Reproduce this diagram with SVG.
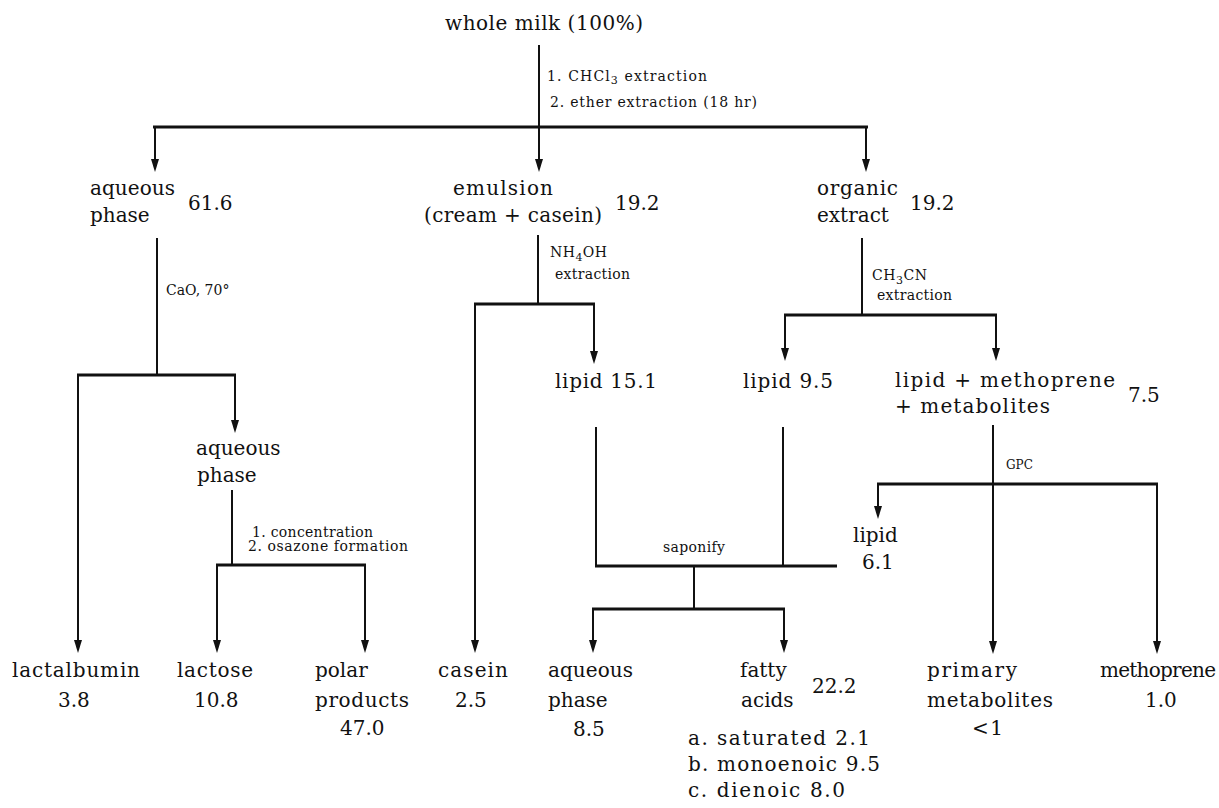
<svg xmlns="http://www.w3.org/2000/svg" width="1219" height="808" viewBox="0 0 1219 808">
<style>
text{font-family:"DejaVu Serif","Liberation Serif",serif;fill:#111}
.n{font-size:20px}
.s{font-size:14px}
.sub{font-size:11px}
.v{stroke:#111;stroke-width:2;fill:none}
.h{stroke:#111;stroke-width:3;fill:none}
.a{stroke:#111;stroke-width:2;fill:none;marker-end:url(#ah)}
</style>
<defs>
<marker id="ah" markerUnits="userSpaceOnUse" viewBox="0 0 13 8" refX="6" refY="4" markerWidth="13" markerHeight="8" orient="auto">
<path d="M0,0 L13,4 L0,8 z" fill="#111"/>
</marker>
</defs>
<rect width="1219" height="808" fill="#fff"/>
<g id="connectors">
<path class="v" d="M539,45 V127"/>
<path class="h" d="M153,127 H868"/>
<path class="a" d="M155,127 V165"/>
<path class="a" d="M539,127 V165"/>
<path class="a" d="M866,127 V165"/>
<path class="v" d="M157,238 V375"/>
<path class="h" d="M77,375 H236"/>
<path class="a" d="M78,375 V646"/>
<path class="a" d="M235,375 V426"/>
<path class="v" d="M232,490 V565"/>
<path class="h" d="M216,565 H366"/>
<path class="a" d="M217,565 V646"/>
<path class="a" d="M365,565 V646"/>
<path class="v" d="M538,235 V304"/>
<path class="h" d="M474,304 H595"/>
<path class="a" d="M475,304 V646"/>
<path class="a" d="M594,304 V357"/>
<path class="v" d="M862,238 V315"/>
<path class="h" d="M784,315 H997"/>
<path class="a" d="M785,315 V354"/>
<path class="a" d="M996,315 V354"/>
<path class="v" d="M596,427 V566"/>
<path class="v" d="M783,427 V566"/>
<path class="h" d="M595,566 H837"/>
<path class="v" d="M694,566 V609"/>
<path class="h" d="M592,609 H785"/>
<path class="a" d="M593,609 V646"/>
<path class="a" d="M784,609 V646"/>
<path class="a" d="M993,425 V647"/>
<path class="h" d="M877,484 H1158"/>
<path class="a" d="M878,484 V512"/>
<path class="a" d="M1157,484 V647"/>
</g>
<g id="labels">
<text class="s" x="547" y="81" textLength="160">1.  CHCl<tspan class="sub" dy="3">3</tspan><tspan dy="-3"> extraction</tspan></text>
<text class="s" x="550" y="107" textLength="207">2.  ether extraction (18 hr)</text>
<text class="s" x="166" y="295">CaO, 70°</text>
<text class="s" x="550" y="257" textLength="57">NH<tspan class="sub" dy="4">4</tspan><tspan dy="-4">OH</tspan></text>
<text class="s" x="555" y="279" textLength="75">extraction</text>
<text class="s" x="872" y="280" textLength="55">CH<tspan class="sub" dy="4">3</tspan><tspan dy="-4">CN</tspan></text>
<text class="s" x="877" y="300" textLength="75">extraction</text>
<text class="s" x="252" y="537" textLength="121">1.  concentration</text>
<text class="s" x="248" y="551" textLength="160">2.  osazone formation</text>
<text class="s" x="663" y="552" textLength="62">saponify</text>
<text class="s" x="1006" y="469" style="font-size:12px">GPC</text>
</g>
<g id="whole-milk"><text class="n" x="445" y="30" textLength="198">whole milk (100%)</text></g>
<g id="aqueous-phase-1"><text class="n" x="90" y="195" textLength="85">aqueous</text><text class="n" x="90" y="222">phase</text><text class="n" x="188" y="210">61.6</text></g>
<g id="emulsion"><text class="n" x="453" y="195" textLength="100">emulsion</text><text class="n" x="424" y="222" textLength="178">(cream + casein)</text><text class="n" x="615" y="210">19.2</text></g>
<g id="organic-extract"><text class="n" x="817" y="195" textLength="81">organic</text><text class="n" x="817" y="222">extract</text><text class="n" x="910" y="210">19.2</text></g>
<g id="lipid-15"><text class="n" x="555" y="388" textLength="102">lipid 15.1</text></g>
<g id="lipid-9"><text class="n" x="743" y="388" textLength="90">lipid 9.5</text></g>
<g id="lipid-methoprene"><text class="n" x="895" y="387" textLength="220">lipid + methoprene</text><text class="n" x="895" y="413" textLength="155">+ metabolites</text><text class="n" x="1128" y="402">7.5</text></g>
<g id="aqueous-phase-2"><text class="n" x="196" y="455">aqueous</text><text class="n" x="197" y="482">phase</text></g>
<g id="lipid-6"><text class="n" x="853" y="542">lipid</text><text class="n" x="862" y="569">6.1</text></g>
<g id="lactalbumin"><text class="n" x="12" y="677" textLength="128">lactalbumin</text><text class="n" x="58" y="707">3.8</text></g>
<g id="lactose"><text class="n" x="177" y="677" textLength="76">lactose</text><text class="n" x="194" y="707">10.8</text></g>
<g id="polar-products"><text class="n" x="315" y="677">polar</text><text class="n" x="315" y="707" textLength="94">products</text><text class="n" x="340" y="735">47.0</text></g>
<g id="casein"><text class="n" x="438" y="677" textLength="70">casein</text><text class="n" x="455" y="707">2.5</text></g>
<g id="aqueous-phase-3"><text class="n" x="548" y="677" textLength="85">aqueous</text><text class="n" x="548" y="707">phase</text><text class="n" x="573" y="736">8.5</text></g>
<g id="fatty-acids"><text class="n" x="740" y="677">fatty</text><text class="n" x="741" y="707">acids</text><text class="n" x="812" y="693">22.2</text>
<text class="n" x="688" y="745" textLength="182">a.  saturated 2.1</text><text class="n" x="688" y="771" textLength="192">b.  monoenoic 9.5</text><text class="n" x="688" y="797" textLength="157">c.  dienoic 8.0</text></g>
<g id="primary-metabolites"><text class="n" x="927" y="677" textLength="90">primary</text><text class="n" x="927" y="707" textLength="126">metabolites</text><text class="n" x="972" y="735" textLength="31">&lt; 1</text></g>
<g id="methoprene"><text class="n" x="1100" y="677" textLength="116">methoprene</text><text class="n" x="1145" y="707">1.0</text></g>
</svg>
